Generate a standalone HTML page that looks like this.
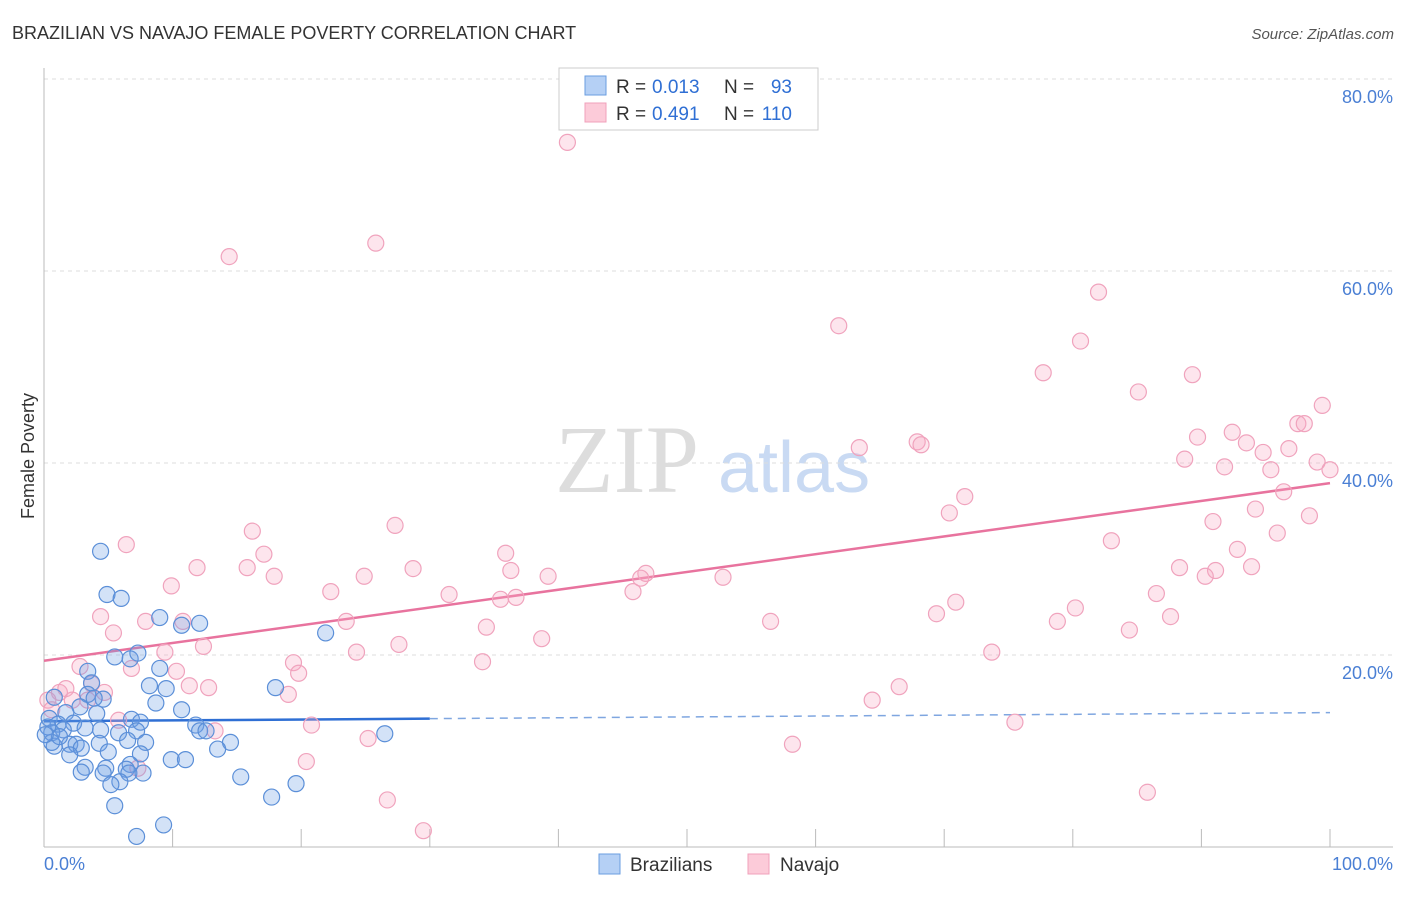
<!DOCTYPE html>
<html><head><meta charset="utf-8"><style>
body{margin:0;background:#fff;font-family:"Liberation Sans",sans-serif;}
</style></head><body>
<svg width="1406" height="892" xmlns="http://www.w3.org/2000/svg" font-family="Liberation Sans, sans-serif">
<text x="12" y="39" font-size="18" fill="#333">BRAZILIAN VS NAVAJO FEMALE POVERTY CORRELATION CHART</text>
<text x="1394" y="39" font-size="15" fill="#555" text-anchor="end" font-style="italic">Source: ZipAtlas.com</text>
<text x="555" y="492" font-size="96" fill="#ddd" font-family="Liberation Serif, serif">ZIP</text>
<text x="718" y="492" font-size="72" fill="#c9daf3">atlas</text>
<g id="grid"></g>
<g id="axes"></g>
<g id="trend"></g>
<g id="pts"></g>
<text transform="translate(34,456) rotate(-90)" font-size="18" fill="#333" text-anchor="middle">Female Poverty</text>
<g>
<rect x="559" y="68" width="259" height="62" fill="#fff" stroke="#ccc"/>
<rect x="585" y="76" width="21" height="19" fill="#b5d0f5" stroke="#6a9ee0"/>
<rect x="585" y="103" width="21" height="19" fill="#fccbd9" stroke="#f0a0bb"/>
<text x="616" y="93" font-size="19" fill="#333">R =</text>
<text x="652" y="93" font-size="19" fill="#2f6fd4">0.013</text>
<text x="724" y="93" font-size="19" fill="#333">N =</text>
<text x="792" y="93" font-size="19" fill="#2f6fd4" text-anchor="end">93</text>
<text x="616" y="120" font-size="19" fill="#333">R =</text>
<text x="652" y="120" font-size="19" fill="#2f6fd4">0.491</text>
<text x="724" y="120" font-size="19" fill="#333">N =</text>
<text x="792" y="120" font-size="19" fill="#2f6fd4" text-anchor="end">110</text>
</g>
<g>
<rect x="599" y="854" width="21" height="20" fill="#b5d0f5" stroke="#6a9ee0"/>
<text x="630" y="871" font-size="19" fill="#333">Brazilians</text>
<rect x="748" y="854" width="21" height="20" fill="#fccbd9" stroke="#f0a0bb"/>
<text x="780" y="871" font-size="19" fill="#333">Navajo</text>
</g>
</svg>
<script>
const yTicks=[20,40,60,80];
const yTickLabels=["20.0%","40.0%","60.0%","80.0%"];
const xEnds=["0.0%","100.0%"];
const pinkX=[40.7,14.4,25.8,82,61.8,80.6,77.7,89.3,85.1,99.4,97.5,98,92.4,89.7,93.5,67.9,68.2,63.4,94.8,96.8,88.7,91.8,95.4,99,100,96.4,71.6,70.4,94.2,98.4,90.9,95.9,83,92.8,88.3,91.1,93.9,90.3,86.5,70.9,80.2,69.4,87.6,78.8,84.4,56.5,73.7,66.5,64.4,75.5,58.2,85.8,52.8,46.8,46.4,45.8,39.2,35.9,36.3,35.5,36.7,31.5,28.7,27.3,24.9,22.3,23.5,34.4,38.7,27.6,24.3,34.1,16.2,17.1,15.8,17.9,11.9,9.9,6.4,4.4,5.4,7.9,10.8,12.4,9.4,6.8,10.3,19.4,19.8,11.3,12.8,19,20.8,13.3,25.2,20.4,26.7,29.5,7.3,5.8,2.8,3.7,4.7,1.2,2.2,0.3,0.6,3.4,1.7];
const pinkY=[73.4,61.5,62.9,57.8,54.3,52.7,49.4,49.2,47.4,46,44.1,44.1,43.2,42.7,42.1,42.2,41.9,41.6,41.1,41.5,40.4,39.6,39.3,40.1,39.3,37,36.5,34.8,35.2,34.5,33.9,32.7,31.9,31,29.1,28.8,29.2,28.2,26.4,25.5,24.9,24.3,24,23.5,22.6,23.5,20.3,16.7,15.3,13,10.7,5.7,28.1,28.5,28,26.6,28.2,30.6,28.8,25.8,26,26.3,29,33.5,28.2,26.6,23.5,22.9,21.7,21.1,20.3,19.3,32.9,30.5,29.1,28.2,29.1,27.2,31.5,24,22.3,23.5,23.5,20.9,20.3,18.6,18.3,19.2,18.1,16.8,16.6,15.9,12.7,12.1,11.3,8.9,4.9,1.7,8.2,13.2,18.8,17,16.1,16.1,15.3,15.3,14.3,15.3,16.5];
const blueX=[4.4,4.9,6,9,10.7,12.1,21.9,5.5,6.7,7.3,9,3.4,3.7,8.2,9.5,18,3.4,4.6,8.7,10.7,2.8,1.7,4.1,6.8,7.5,11.8,0.4,1.1,2.3,3.2,1.5,0.6,0.3,4.4,5.8,7.2,12.1,12.6,26.5,14.5,4.3,6.5,7.9,2,2.5,0.8,2.9,13.5,5,7.5,2,9.9,11,6.7,3.2,4.8,6.4,4.6,6.6,7.7,2.9,15.3,5.9,5.2,19.6,17.7,5.5,9.3,7.2,0.6,1.2,0.8,0.1,3.9];
const blueY=[30.8,26.3,25.9,23.9,23.1,23.3,22.3,19.8,19.6,20.2,18.6,18.3,17.1,16.8,16.5,16.6,15.9,15.4,15,14.3,14.6,14,13.9,13.3,13,12.7,13.4,12.8,12.9,12.4,12.2,11.9,12.5,12.2,11.9,12.1,12.1,12.1,11.8,10.9,10.8,11.1,10.9,10.7,10.7,10.5,10.3,10.2,9.9,9.7,9.6,9.1,9.1,8.6,8.3,8.2,8.1,7.7,7.7,7.7,7.8,7.3,6.8,6.5,6.6,5.2,4.3,2.3,1.1,10.9,11.5,15.6,11.7,15.5];
const pinkTrend=[19.4,37.9];
const blueTrend=[13.1,14.0];
const NS="http://www.w3.org/2000/svg";
const xs=v=>44+v*12.86, ys=v=>847-v*9.6;
function mk(tag,attrs,parent){const e=document.createElementNS(NS,tag);for(const k in attrs)e.setAttribute(k,attrs[k]);document.getElementById(parent).appendChild(e);return e;}
yTicks.forEach((t,i)=>{
 const g=mk('line',{x1:44,x2:1393,y1:ys(t),y2:ys(t),stroke:'#ddd','stroke-dasharray':'4,4'},'grid');
 
 
 const l=mk('text',{x:1393,y:ys(t)+24,'font-size':18,fill:'#4a7fd4','text-anchor':'end'},'axes');
 l.textContent=yTickLabels[i];
 
 
});
let ax=mk('line',{x1:44,x2:44,y1:68,y2:847,stroke:'#bbb'},'axes');


ax=mk('line',{x1:44,x2:1393,y1:847,y2:847,stroke:'#bbb'},'axes');


for(let i=0;i<=10;i++){const t=mk('line',{x1:xs(i*10),x2:xs(i*10),y1:829,y2:847,stroke:'#bbb'},'axes');
 
 }
let xl=mk('text',{x:44,y:870,'font-size':18,fill:'#4a7fd4'},'axes');xl.textContent=xEnds[0];


xl=mk('text',{x:1393,y:870,'font-size':18,fill:'#4a7fd4','text-anchor':'end'},'axes');xl.textContent=xEnds[1];


pinkX.forEach((x,i)=>{const c=mk('circle',{cx:xs(x),cy:ys(pinkY[i]),r:8,fill:'rgba(248,170,196,0.3)',stroke:'#f0a3bd','stroke-width':1.2},'pts');
 
 });
blueX.forEach((x,i)=>{const c=mk('circle',{cx:xs(x),cy:ys(blueY[i]),r:8,fill:'rgba(110,160,230,0.3)',stroke:'#5b8fd8','stroke-width':1.2},'pts');
 
 });
let tl=mk('line',{x1:xs(0),y1:ys(pinkTrend[0]),x2:xs(100),y2:ys(pinkTrend[1]),stroke:'#e8739e','stroke-width':2.5},'trend');


const bAt=x=>blueTrend[0]+(blueTrend[1]-blueTrend[0])*x/100;
tl=mk('line',{x1:xs(0),y1:ys(bAt(0)),x2:xs(30),y2:ys(bAt(30)),stroke:'#2f6fd4','stroke-width':2.5},'trend');


tl=mk('line',{x1:xs(30),y1:ys(bAt(30)),x2:xs(100),y2:ys(bAt(100)),stroke:'#7fa6e0','stroke-width':1.5,'stroke-dasharray':'8,6'},'trend');


</script>
</body></html>
